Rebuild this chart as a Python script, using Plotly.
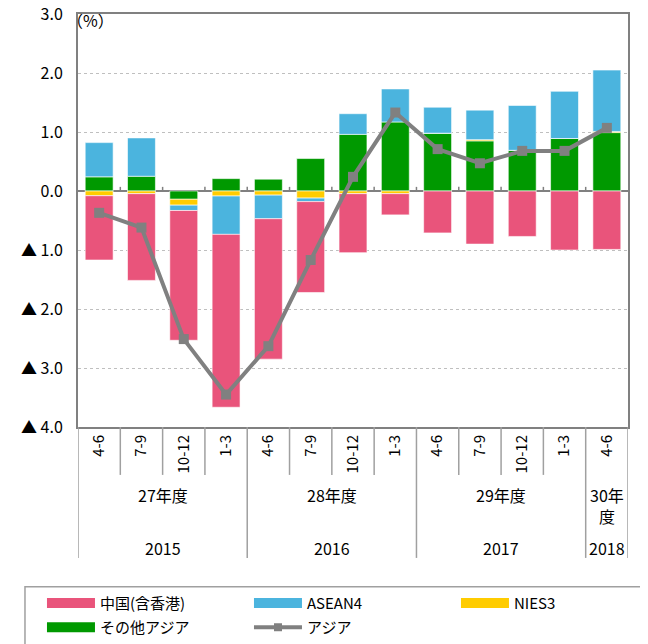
import numpy as np
import plotly.graph_objects as go

# quarter labels (fiscal year quarters, Apr-Jun 2015 .. Apr-Jun 2018)
quarters = ["4-6", "7-9", "10-12", "1-3",
            "4-6", "7-9", "10-12", "1-3",
            "4-6", "7-9", "10-12", "1-3",
            "4-6"]
fy_labels = ["27年度", "28年度", "29年度", "30年<br>度"]
cal_years = ["2015", "2016", "2017", "2018"]
fy_sizes = [4, 4, 4, 1]

# contributions (%)
china = [-1.09, -1.47, -2.20, -2.93, -2.38, -1.54, -1.00, -0.36, -0.71, -0.90, -0.77, -1.00, -0.99]
asean4 = [0.58, 0.65, -0.09, -0.65, -0.40, -0.06, 0.35, 0.56, 0.44, 0.50, 0.76, 0.80, 1.04]
nies3 = [-0.08, -0.045, -0.10, -0.085, -0.07, -0.12, -0.045, -0.045, 0.0, 0.02, 0.0, 0.0, 0.02]
other_asia = [0.24, 0.25, -0.14, 0.21, 0.20, 0.55, 0.96, 1.17, 0.98, 0.85, 0.69, 0.89, 0.99]
asia = [-0.37, -0.62, -2.51, -3.45, -2.63, -1.17, 0.24, 1.33, 0.71, 0.47, 0.68, 0.68, 1.07]

ytick_vals = [3, 2, 1, 0, -1, -2, -3, -4]
ytick_text = ["3.0", "2.0", "1.0", "0.0", "▲ 1.0", "▲ 2.0", "▲ 3.0", "▲ 4.0"]

PINK = "#E9547B"
BLUE = "#4BB4DE"
YELLOW = "#FFCC00"
GREEN = "#009900"
GRAY = "#808080"
LINE = "#A0A0A0"
FONT = "Noto Sans CJK JP"

x = list(range(len(quarters)))
fig = go.Figure()

# stacking order: green nearest zero, then yellow, blue, pink
for name, vals, col in [("その他アジア", other_asia, GREEN), ("NIES3", nies3, YELLOW),
                        ("ASEAN4", asean4, BLUE), ("中国(含香港)", china, PINK)]:
    fig.add_trace(go.Bar(x=x, y=vals, name=name, marker_color=col,
                         marker_line=dict(color="rgba(255,255,255,0.6)", width=1),
                         showlegend=False))

fig.add_trace(go.Scatter(x=x, y=asia, name="アジア", mode="lines+markers",
                         line=dict(color=GRAY, width=4),
                         marker=dict(symbol="square", size=10, color=GRAY),
                         showlegend=False))

# legend entries (long swatches like the original), two rows -> two legends
for name, col, lg in [("中国(含香港)", PINK, "legend"), ("ASEAN4", BLUE, "legend"),
                      ("NIES3", YELLOW, "legend"), ("その他アジア", GREEN, "legend2")]:
    fig.add_trace(go.Scatter(x=[None], y=[None], name=name, mode="lines",
                             line=dict(color=col, width=10), legend=lg))
fig.add_trace(go.Scatter(x=[None], y=[None], name="アジア", mode="lines+markers",
                         line=dict(color=GRAY, width=4), legend="legend2",
                         marker=dict(symbol="square", size=8, color=GRAY)))

legend_style = dict(orientation="h", x=-0.0655, xanchor="left", yanchor="top",
                    itemwidth=48, entrywidth=144, entrywidthmode="pixels",
                    borderwidth=0, bgcolor="rgba(0,0,0,0)",
                    font=dict(family=FONT, size=15), traceorder="normal")

# the page adds an 8px body margin, so margins are offset to keep the plot in place
fig.update_layout(
    width=648, height=644,
    margin=dict(l=70, r=28, t=6, b=225, autoexpand=False),
    barmode="relative", bargap=0.34,
    plot_bgcolor="white", paper_bgcolor="white",
    font=dict(family=FONT, size=15, color="black"),
    legend=dict(y=-0.387, **legend_style),
    legend2=dict(y=-0.4455, **legend_style),
)

fig.update_xaxes(range=[-0.5, len(quarters) - 0.5], tickvals=x, ticktext=quarters,
                 tickangle=-90, tickfont=dict(size=15), ticks="",
                 showgrid=False, zeroline=False,
                 showline=True, linecolor=GRAY, linewidth=2, mirror=True)
fig.update_yaxes(range=[-4, 3], tickvals=ytick_vals, ticktext=ytick_text,
                 tickfont=dict(size=16), ticks="", ticklabelstandoff=10,
                 ticklabeloverflow="allow",
                 showgrid=True, gridcolor="#BFBFBF", griddash="dot", gridwidth=1,
                 zeroline=True, zerolinecolor=GRAY, zerolinewidth=2,
                 showline=True, linecolor=GRAY, linewidth=2, mirror=True)

# small tick marks on the zero line at category boundaries
for b in np.arange(0.5, len(quarters) - 0.5, 1.0):
    fig.add_shape(type="line", xref="x", yref="y", x0=b, x1=b, y0=0, y1=0.07,
                  line=dict(color=GRAY, width=1.5))

# category table below the axis
group_edges = np.concatenate([[0], np.cumsum(fy_sizes)]) - 0.5
for b in np.arange(0.5, len(quarters) - 0.5, 1.0):
    if b not in group_edges:
        fig.add_shape(type="line", xref="x", yref="paper", x0=b, x1=b, y0=0, y1=-0.116,
                      line=dict(color=LINE, width=1.5))
for b in group_edges:
    fig.add_shape(type="line", xref="x", yref="paper", x0=b, x1=b, y0=0, y1=-0.317,
                  line=dict(color=LINE, width=1.5))
for i, (fy, yr) in enumerate(zip(fy_labels, cal_years)):
    cx = (group_edges[i] + group_edges[i + 1]) / 2
    fig.add_annotation(x=cx, xref="x", y=-0.165 if fy_sizes[i] > 1 else -0.189, yref="paper",
                       text=fy, showarrow=False, font=dict(size=16), yanchor="middle")
    fig.add_annotation(x=cx, xref="x", y=-0.293, yref="paper", text=yr,
                       showarrow=False, font=dict(size=16), yanchor="middle")

# legend frame (runs off the right and bottom edges as in the original)
fig.add_shape(type="rect", xref="paper", yref="paper", x0=-0.0964, x1=1.3, y0=-0.387, y1=-0.7,
              line=dict(color=LINE, width=1.5), fillcolor="rgba(0,0,0,0)")

fig.add_annotation(x=0, xref="paper", y=0.9855, yref="paper", text="（%）",
                   showarrow=False, xanchor="left", yanchor="middle", xshift=-13,
                   font=dict(size=16))

fig.write_html("out.html")
